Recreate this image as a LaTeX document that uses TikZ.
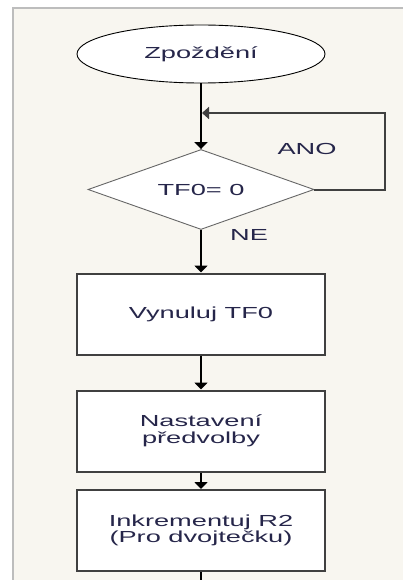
\documentclass[tikz,border=0pt]{standalone}
\usepackage{fontspec}
\newfontfamily\flowfont[FakeStretch=1.7]{Liberation Sans}
\usetikzlibrary{shapes.geometric,arrows.meta}
\definecolor{pagebg}{HTML}{F8F6F0}
\definecolor{framegray}{HTML}{BDBDBD}
\definecolor{boxline}{HTML}{404040}
\definecolor{txtcol}{HTML}{26264A}
\begin{document}
\begin{tikzpicture}[x=1pt,y=-1pt,
  every node/.style={font=\flowfont\fontsize{16}{16.5}\selectfont,text=txtcol,align=center},
  startstop/.style={ellipse,draw=black,line width=0.9pt,fill=white,minimum width=248pt,minimum height=58pt,inner sep=0pt},
  decision/.style={diamond,draw=boxline!80,line width=0.9pt,fill=white,shape aspect=2.8,minimum width=226pt,minimum height=80pt,inner sep=0pt},
  process/.style={rectangle,draw=boxline,line width=2pt,fill=white,minimum width=248pt,minimum height=81pt,inner sep=0pt},
  flow/.style={draw=black,line width=2pt,-{Triangle[width=13pt,length=7pt]}},
  loopline/.style={draw=boxline,line width=2pt,-{Triangle[width=12pt,length=7pt]}}]
\useasboundingbox (0,0) rectangle (403,580);
% background and frame
\fill[pagebg] (13,8) rectangle (403,580);
\draw[framegray,line width=2.5pt] (13,580) -- (13,8) -- (403,8);
% nodes
\node[startstop] (start) at (201,54) {Zpoždění};
\node[decision] (test) at (201,189.5) {TF0= 0};
\node[process] (clear) at (201,314) {Vynuluj TF0};
\node[process] (preset) at (201,431) {Nastavení\\předvolby};
\node[process] (incr) at (201,530.5) {Inkrementuj R2\\(Pro dvojtečku)};
\coordinate (join) at (202,113);
\coordinate (exit) at (201,580);
% connectors
\draw[flow] (start) -- (test);
\draw[loopline] (test.east) -- ++(71,0) |- (join);
\draw[flow] (test) -- (clear);
\draw[flow] (clear) -- (preset);
\draw[flow] (preset) -- (incr);
\draw[black,line width=2pt] (incr) -- (exit);
% labels
\node (ano) at (307,149) {ANO};
\node (ne) at (249,235) {NE};
\end{tikzpicture}
\end{document}
